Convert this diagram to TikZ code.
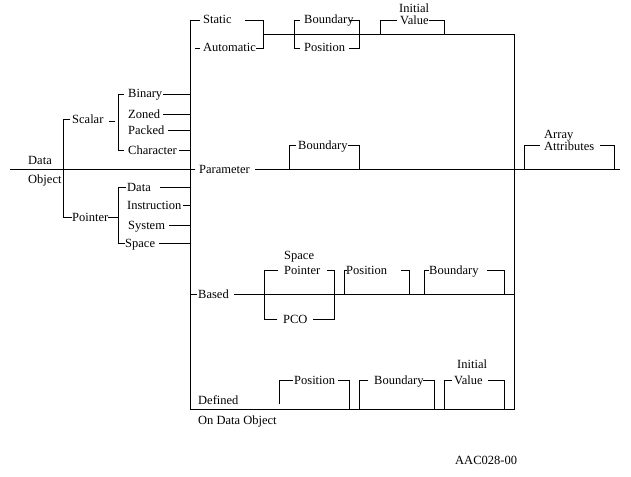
\documentclass[tikz,border=0pt]{standalone}
\usepackage{fontspec}
\setmainfont{Liberation Serif}
\begin{document}
\begin{tikzpicture}[x=1pt,y=-1pt,
  lbl/.style={anchor=base west,inner sep=0pt,yshift=-4pt,font=\fontsize{12.5}{12.5}\selectfont},
  ln/.style={line width=0.9pt,line cap=rect}]
\useasboundingbox (0,0) rectangle (631,476);
% ---- labels ----
\node[lbl] (data) at (28,160) {Data};
\node[lbl] (object) at (28,179) {Object};
\node[lbl] (scalar) at (72,120) {Scalar};
\node[lbl] (binary) at (128,94) {Binary};
\node[lbl] (zoned) at (128,114) {Zoned};
\node[lbl] (packed) at (128,130) {Packed};
\node[lbl] (character) at (128,150) {Character};
\node[lbl] (pointer) at (72,217) {Pointer};
\node[lbl] (pdata) at (127,187) {Data};
\node[lbl] (instr) at (127,205) {Instruction};
\node[lbl] (system) at (128,225) {System};
\node[lbl] (space) at (125,243) {Space};
\node[lbl] (static) at (203,20) {Static};
\node[lbl] (auto) at (203,48) {Automatic};
\node[lbl] (bound1) at (304,20) {Boundary};
\node[lbl] (pos1) at (304,48) {Position};
\node[lbl] (init1) at (399,8.5) {Initial};
\node[lbl] (val1) at (400,20.5) {Value};
\node[lbl] (array) at (544,134) {Array};
\node[lbl] (attr) at (544,146) {Attributes};
\node[lbl] (param) at (199,169) {Parameter};
\node[lbl] (bound2) at (298,145) {Boundary};
\node[lbl] (based) at (198,294) {Based};
\node[lbl] (spc) at (284,255) {Space};
\node[lbl] (sptr) at (284,270) {Pointer};
\node[lbl] (pco) at (283,319) {PCO};
\node[lbl] (pos2) at (346,270) {Position};
\node[lbl] (bound3) at (429,270) {Boundary};
\node[lbl] (defined) at (198,400) {Defined};
\node[lbl] (pos3) at (294,380) {Position};
\node[lbl] (bound4) at (374,380) {Boundary};
\node[lbl] (init2) at (457,364) {Initial};
\node[lbl] (val2) at (454,380.5) {Value};
\node[lbl] (ondata) at (198,420) {On Data Object};
\node[lbl] (aac) at (455,460) {AAC028-00};
% ---- lines ----
\begin{scope}[ln]
% main line
\draw (10,169) -- (195,169);
\draw (255,169) -- (620,169);
% first split
\draw (70,119) -- (63,119) -- (63,217) -- (72,217);
\draw (109,121) -- (115,121);
\draw (108,217) -- (118,217);
% scalar branch
\draw (124,94) -- (118,94) -- (118,150) -- (124,150);
\draw (163,94) -- (190,94);
\draw (163,114) -- (190,114);
\draw (168,130) -- (190,130);
\draw (179,150) -- (190,150);
% pointer branch
\draw (126,187) -- (118,187) -- (118,243) -- (125,243);
\draw (160,187) -- (190,187);
\draw (183,205) -- (190,205);
\draw (169,225) -- (190,225);
\draw (159,243) -- (190,243);
% big frame
\draw (200,20) -- (190,20) -- (190,409) -- (514,409) -- (514,34);
% static / automatic
\draw (245,20) -- (263,20) -- (263,48) -- (256,48);
\draw (195,48) -- (200,48);
\draw (263,34) -- (514,34);
% boundary / position
\draw (300,20) -- (294,20) -- (294,48) -- (300,48);
\draw (350,20) -- (359,20) -- (359,48) -- (349,48);
% initial value
\draw (380,34) -- (380,20) -- (397,20);
\draw (429,20) -- (444,20) -- (444,34);
% array attributes
\draw (524,169) -- (524,145) -- (540,145);
\draw (600,145) -- (614,145) -- (614,169);
% parameter
\draw (190,169) -- (195,169);
\draw (289,169) -- (289,145) -- (296,145);
\draw (348,145) -- (359,145) -- (359,169);
% based
\draw (190,294) -- (197,294);
\draw (234,294) -- (514,294);
\draw (278,270) -- (264,270) -- (264,319) -- (277,319);
\draw (327,270) -- (334,270) -- (334,319) -- (313,319);
\draw (344,294) -- (344,270) -- (347,270);
\draw (401,270) -- (409,270) -- (409,294);
\draw (424,294) -- (424,270) -- (429,270);
\draw (487,270) -- (504,270) -- (504,294);
% defined
\draw (279,404) -- (279,380) -- (293,380);
\draw (338,380) -- (349,380) -- (349,409);
\draw (359,409) -- (359,380) -- (368,380);
\draw (423,380) -- (434,380) -- (434,409);
\draw (444,409) -- (444,380) -- (452,380);
\draw (488,380) -- (504,380) -- (504,409);
\end{scope}
\end{tikzpicture}
\end{document}
